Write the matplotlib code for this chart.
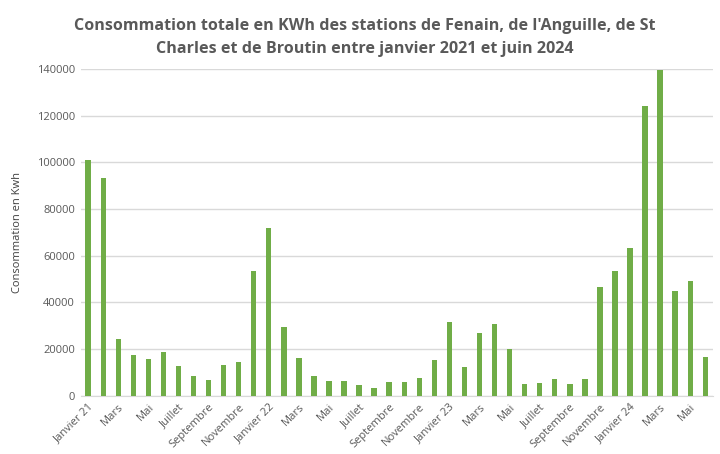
import matplotlib
matplotlib.use("Agg")
import matplotlib.pyplot as plt
import numpy as np

mois = ["Janvier", "Février", "Mars", "Avril", "Mai", "Juin", "Juillet", "Août",
        "Septembre", "Octobre", "Novembre", "Décembre"]
annees = ["21", "22", "23", "24"]

consommation = [101000, 93400, 24400, 17600, 15900, 18900, 12900, 8600, 6900, 13300, 14600, 53600,
                72000, 29600, 16300, 8600, 6400, 6400, 4700, 3400, 6000, 6000, 7700, 15400,
                31700, 12400, 27000, 30900, 20100, 5100, 5600, 7300, 5100, 7300, 46700, 53600,
                63400, 124300, 139700, 45000, 49300, 16700]

labels = []
for i in range(len(consommation)):
    m = mois[i % 12]
    if m == "Janvier":
        labels.append(f"{m} {annees[i // 12]}")
    else:
        labels.append(m)

plt.rcParams['font.family'] = ['Open Sans', 'DejaVu Sans']

fig = plt.figure(figsize=(7.2, 4.54), dpi=100)
ax = fig.add_axes([0.112, 0.128, 0.878, 0.72])

x = np.arange(len(consommation))
ax.bar(x, consommation, width=0.36, color="#70AD47", zorder=3)

ax.set_xlim(-0.5, len(consommation) - 0.5)
ax.set_ylim(0, 140000)
ax.set_yticks(np.arange(0, 140001, 20000))
ax.set_yticklabels([str(v) for v in range(0, 140001, 20000)], fontsize=8, color="#595959")
ax.set_xticks(x[::2])
ax.set_xticklabels(labels[::2], rotation=45, ha="right", rotation_mode="anchor",
                   fontsize=8, color="#595959")
ax.tick_params(axis="both", length=0, pad=4)
ax.grid(axis="y", color="#D9D9D9", linewidth=1, zorder=0)
for s in ["top", "right", "left"]:
    ax.spines[s].set_visible(False)
ax.spines["bottom"].set_color("#D9D9D9")

ax.set_ylabel("Consommation en Kwh", fontsize=8, color="#404040", labelpad=10)

fig.text(0.507, 0.943, "Consommation totale en KWh des stations de Fenain, de l'Anguille, de St",
         ha="center", va="center", fontsize=11.6, fontweight="bold", color="#595959")
fig.text(0.507, 0.893, "Charles et de Broutin entre janvier 2021 et juin 2024",
         ha="center", va="center", fontsize=11.6, fontweight="bold", color="#595959")

fig.savefig("out.png", dpi=100)
